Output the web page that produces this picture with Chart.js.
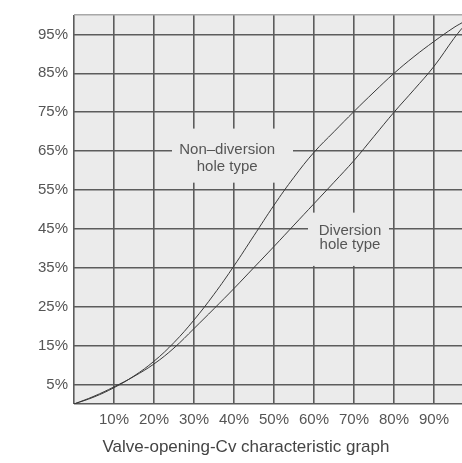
<!DOCTYPE html>
<html>
<head>
<meta charset="utf-8">
<script src="https://cdn.jsdelivr.net/npm/chart.js@4"></script>
<style>
html,body{margin:0;padding:0;background:#fff;}
#wrap{width:462px;height:463px;}
</style>
</head>
<body>
<div id="wrap"><canvas id="c" width="462" height="463"></canvas></div>
<script>
// Valve opening (%) on x, Cv (%) on y
const opening = [0, 5, 10, 15, 20, 25, 30, 35, 40, 45, 50, 55, 60, 65, 70, 75, 80, 85, 90, 95, 97];
const nonDiversion = [0, 1.8, 4.2, 7.2, 11.0, 15.8, 21.6, 28.2, 35.5, 43.3, 51.1, 58.3, 64.7, 70.0, 75.2, 80.2, 85.0, 89.3, 93.2, 96.8, 98.0];
const diversion = [0, 2.0, 4.4, 7.1, 10.3, 14.4, 19.4, 24.5, 29.7, 35.1, 40.5, 46.0, 51.5, 57.0, 62.6, 68.8, 75.0, 80.8, 86.8, 94.0, 96.6];
const xTicks = [0, 10, 20, 30, 40, 50, 60, 70, 80, 90];
const yTicks = [0, 5, 15, 25, 35, 45, 55, 65, 75, 85, 95, 100];
const title = 'Valve-opening-Cv characteristic graph';
const labelNon = ['Non\u2013diversion', 'hole type'];
const labelDiv = ['Diversion', 'hole type'];

const BG = '#ebebeb';
const GRID = '#5c5c5c';
const TXT = '#555';
const FONT = '"Liberation Sans", Arial, sans-serif';

const pts = (xs, ys) => xs.map((x, i) => ({x: x, y: ys[i]}));

const decor = {
  id: 'decor',
  beforeDraw(chart) {
    const {ctx, chartArea: a} = chart;
    ctx.save();
    ctx.fillStyle = BG;
    ctx.fillRect(a.left, a.top, a.right - a.left, a.bottom - a.top);
    ctx.restore();
  },
  beforeDatasetsDraw(chart) {
    const {ctx, scales: {x, y}} = chart;
    ctx.save();
    // gaps in grid behind annotation texts
    const box = (x0, x1, y0, y1) => {
      const px0 = x.getPixelForValue(x0), px1 = x.getPixelForValue(x1);
      const py0 = y.getPixelForValue(y0), py1 = y.getPixelForValue(y1);
      ctx.fillStyle = BG;
      ctx.fillRect(px0, py0, px1 - px0, py1 - py0);
    };
    box(24.5, 54.75, 70.8, 56.9);
    box(58.5, 78.75, 49.2, 35.5);
    ctx.fillStyle = TXT;
    ctx.font = '15px ' + FONT;
    ctx.textAlign = 'center';
    ctx.textBaseline = 'middle';
    ctx.fillText(labelNon[0], x.getPixelForValue(38.3), y.getPixelForValue(65.3));
    ctx.fillText(labelNon[1], x.getPixelForValue(38.3), y.getPixelForValue(61.0));
    ctx.fillText(labelDiv[0], x.getPixelForValue(69), y.getPixelForValue(44.6));
    ctx.fillText(labelDiv[1], x.getPixelForValue(69), y.getPixelForValue(40.8));
    ctx.restore();
  },
  afterDraw(chart) {
    const {ctx} = chart;
    ctx.save();
    ctx.fillStyle = '#444';
    ctx.font = '17px ' + FONT;
    ctx.textAlign = 'center';
    ctx.textBaseline = 'middle';
    ctx.fillText(title, 246, 447);
    ctx.restore();
  }
};

new Chart(document.getElementById('c'), {
  type: 'scatter',
  data: {
    datasets: [
      {label: 'Non-diversion hole type', data: pts(opening, nonDiversion)},
      {label: 'Diversion hole type', data: pts(opening, diversion)}
    ].map(d => Object.assign(d, {
      showLine: true, borderColor: '#3a3a3a', borderWidth: 1, pointRadius: 0,
      tension: 0.4, fill: false
    }))
  },
  options: {
    responsive: false,
    animation: false,
    devicePixelRatio: 1,
    layout: {padding: {top: 10, right: 0, left: 0, bottom: 0}},
    plugins: {legend: {display: false}, tooltip: {enabled: false}},
    scales: {
      x: {
        type: 'linear', min: 0, max: 97,
        afterBuildTicks: s => { s.ticks = xTicks.map(v => ({value: v})); },
        afterFit: s => { s.height = 59; },
        border: {display: false},
        grid: {color: GRID, lineWidth: 1.6, drawTicks: false},
        ticks: {
          color: TXT, font: {size: 15, family: FONT}, padding: 7, maxRotation: 0,
          callback: v => v === 0 ? '' : v + '%'
        }
      },
      y: {
        type: 'linear', min: 0, max: 100,
        afterBuildTicks: s => { s.ticks = yTicks.map(v => ({value: v})); },
        afterFit: s => { s.width = 74; },
        border: {display: false},
        grid: {
          color: c => c.tick && c.tick.value === 100 ? '#a8a8a8' : GRID,
          lineWidth: 1.6, drawTicks: false
        },
        ticks: {
          color: TXT, font: {size: 15, family: FONT}, padding: 6,
          callback: v => (v === 0 || v === 100) ? '' : v + '%'
        }
      }
    }
  },
  plugins: [decor]
});
</script>
</body>
</html>
